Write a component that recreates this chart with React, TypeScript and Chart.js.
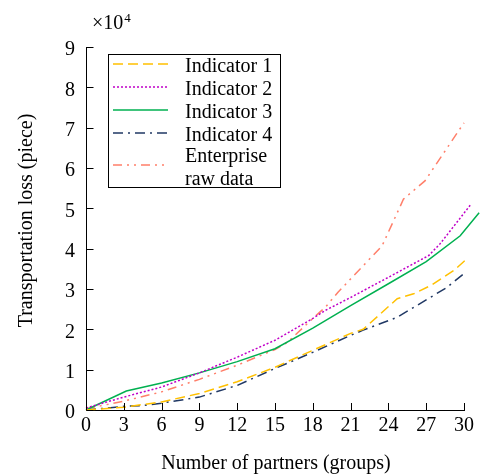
import React, { useEffect, useRef } from 'react';
import { Chart, registerables } from 'chart.js';

Chart.register(...registerables);

// ---- data ----
const seriesLabels = ['Indicator 1', 'Indicator 2', 'Indicator 3', 'Indicator 4', 'Enterprise\nraw data'];

const indicator1X = [0, 3, 6, 9, 12, 15, 18, 21, 22, 24.7, 26, 27.5, 29.2, 30.2];
const indicator1Y = [0, 0.07, 0.2, 0.41, 0.7, 1.06, 1.48, 1.9, 2.0, 2.76, 2.88, 3.11, 3.46, 3.74];

const indicator2X = [0, 3, 6, 9, 12, 15, 18, 19, 21, 24, 27.2, 28.1, 30.5];
const indicator2Y = [0.05, 0.32, 0.57, 0.92, 1.31, 1.73, 2.27, 2.47, 2.79, 3.29, 3.83, 4.12, 5.08];

const indicator3X = [0, 3.2, 6, 9, 12, 15, 18, 21, 24, 27, 29.7, 31.2];
const indicator3Y = [0, 0.47, 0.67, 0.92, 1.2, 1.52, 2.03, 2.59, 3.13, 3.68, 4.32, 4.89];

const indicator4X = [0, 3, 4.5, 6, 9, 12, 15, 18, 21, 22, 24.7, 27, 28.6, 30, 30.4];
const indicator4Y = [0, 0.09, 0.11, 0.17, 0.32, 0.61, 1.03, 1.43, 1.85, 1.98, 2.3, 2.73, 3.03, 3.38, 3.56];

const enterpriseX = [0, 3, 6, 9, 12, 15, 16, 18, 19, 20, 23.5, 25.2, 26.9, 30];
const enterpriseY = [0.03, 0.22, 0.45, 0.76, 1.11, 1.5, 1.68, 2.27, 2.55, 2.92, 4.07, 5.23, 5.68, 7.12];

const xTickValues = [0, 3, 6, 9, 12, 15, 18, 21, 24, 27, 30];
const yTickValues = [0, 1, 2, 3, 4, 5, 6, 7, 8, 9];

const xTitle = 'Number of partners (groups)';
const yTitle = 'Transportation loss (piece)';
const yUnitBase = '\u00d710';
const yUnitExp = '4';

// ---- styles ----
const seriesColors = ['#FFC000', '#C000C8', '#00B050', '#203864', '#FF7F6A'];
const seriesDashes: number[][] = [[10, 5], [2, 2], [], [10, 5, 2, 5], [9, 5, 2, 5, 2, 5]];
const FONT = '"Liberation Serif", "Times New Roman", serif';

const seriesX = [indicator1X, indicator2X, indicator3X, indicator4X, enterpriseX];
const seriesY = [indicator1Y, indicator2Y, indicator3Y, indicator4Y, enterpriseY];

const decorPlugin = {
  id: 'decor',
  afterDraw(chart: any) {
    const { ctx, chartArea, scales } = chart;
    const xs = scales.x;
    const ys = scales.y;
    ctx.save();
    // inward tick marks
    ctx.strokeStyle = '#000';
    ctx.lineWidth = 1;
    ctx.setLineDash([]);
    ctx.beginPath();
    xs.ticks.forEach((t: any) => {
      const px = Math.round(xs.getPixelForValue(t.value)) + 0.5;
      ctx.moveTo(px, chartArea.bottom + 0.5);
      ctx.lineTo(px, chartArea.bottom - 7);
    });
    ys.ticks.forEach((t: any) => {
      const py = Math.round(ys.getPixelForValue(t.value)) + 0.5;
      ctx.moveTo(chartArea.left + 0.5, py);
      ctx.lineTo(chartArea.left + 7.5, py);
    });
    ctx.stroke();

    ctx.fillStyle = '#000';
    // x title
    ctx.font = `20px ${FONT}`;
    ctx.textAlign = 'center';
    ctx.textBaseline = 'alphabetic';
    ctx.fillText(xTitle, (chartArea.left + chartArea.right) / 2 + 1, 469);
    // y title
    ctx.save();
    ctx.translate(31.5, (chartArea.top + chartArea.bottom) / 2 - 8);
    ctx.rotate(-Math.PI / 2);
    ctx.fillText(yTitle, 0, 0);
    ctx.restore();
    // exponent
    ctx.textAlign = 'left';
    ctx.font = `20px ${FONT}`;
    ctx.fillText(yUnitBase, 92, 29);
    const w = ctx.measureText(yUnitBase).width;
    ctx.font = `13px ${FONT}`;
    ctx.fillText(yUnitExp, 92 + w + 1, 21.5);

    // legend
    const bx = 108.5, by = 54.5, bw = 172, bh = 133;
    ctx.fillStyle = '#fff';
    ctx.fillRect(bx, by, bw, bh);
    ctx.strokeStyle = '#000';
    ctx.lineWidth = 1;
    ctx.strokeRect(bx, by, bw, bh);
    const sampleY = [64, 87, 110, 133, 165];
    ctx.font = `20px ${FONT}`;
    ctx.textAlign = 'left';
    chart.data.datasets.forEach((ds: any, i: number) => {
      ctx.save();
      ctx.strokeStyle = ds.borderColor;
      ctx.lineWidth = ds.borderWidth;
      ctx.setLineDash(ds.borderDash || []);
      ctx.beginPath();
      ctx.moveTo(113, sampleY[i]);
      ctx.lineTo(168, sampleY[i]);
      ctx.stroke();
      ctx.restore();
      ctx.fillStyle = '#000';
      const lines = String(seriesLabels[i]).split('\n');
      if (lines.length === 1) {
        ctx.fillText(lines[0], 185, sampleY[i] + 8);
      } else {
        lines.forEach((ln, k) => ctx.fillText(ln, 185, sampleY[i] - 3 + k * 23));
      }
    });
    ctx.restore();
  },
};

export default function App() {
  const canvasRef = useRef<HTMLCanvasElement | null>(null);

  useEffect(() => {
    if (!canvasRef.current) return;
    Chart.defaults.font.family = FONT;
    Chart.defaults.font.size = 20;
    Chart.defaults.color = '#000';

    const datasets = seriesLabels.map((label, i) => ({
      label: label.replace('\n', ' '),
      data: seriesX[i].map((x, k) => ({ x, y: seriesY[i][k] })),
      borderColor: seriesColors[i],
      backgroundColor: seriesColors[i],
      borderDash: seriesDashes[i],
      borderWidth: 1.5,
      pointRadius: 0,
      tension: 0,
      fill: false,
      clip: false as any,
    }));

    const chart = new Chart(canvasRef.current, {
      type: 'line',
      data: { datasets },
      options: {
        animation: false,
        responsive: false,
        devicePixelRatio: 1,
        parsing: true,
        layout: { padding: { top: 47, right: 22, left: 0, bottom: 0 } },
        plugins: {
          legend: { display: false },
          title: { display: false },
          tooltip: { enabled: false },
        },
        scales: {
          x: {
            type: 'linear',
            min: 0,
            max: 30,
            afterFit: (s: any) => { s.height = 66; },
            afterBuildTicks: (s: any) => { s.ticks = xTickValues.map((v) => ({ value: v })); },
            ticks: { padding: 4, autoSkip: false, maxRotation: 0, color: '#000', font: { size: 20, family: FONT } },
            grid: { display: true, drawOnChartArea: false, drawTicks: false },
            border: { display: true, color: '#000', width: 1 },
          },
          y: {
            type: 'linear',
            min: 0,
            max: 9,
            afterFit: (s: any) => { s.width = 86; },
            afterBuildTicks: (s: any) => { s.ticks = yTickValues.map((v) => ({ value: v })); },
            ticks: { padding: 11, labelOffset: 3, autoSkip: false, color: '#000', font: { size: 20, family: FONT } },
            grid: { display: true, drawOnChartArea: false, drawTicks: false },
            border: { display: true, color: '#000', width: 1 },
          },
        },
      },
      plugins: [decorPlugin],
    });
    return () => chart.destroy();
  }, []);

  return (
    <div style={{ position: 'absolute', left: 0, top: 0, width: 486, height: 476, background: '#fff' }}>
      <canvas ref={canvasRef} width={486} height={476} style={{ display: 'block', width: 486, height: 476 }} />
    </div>
  );
}
